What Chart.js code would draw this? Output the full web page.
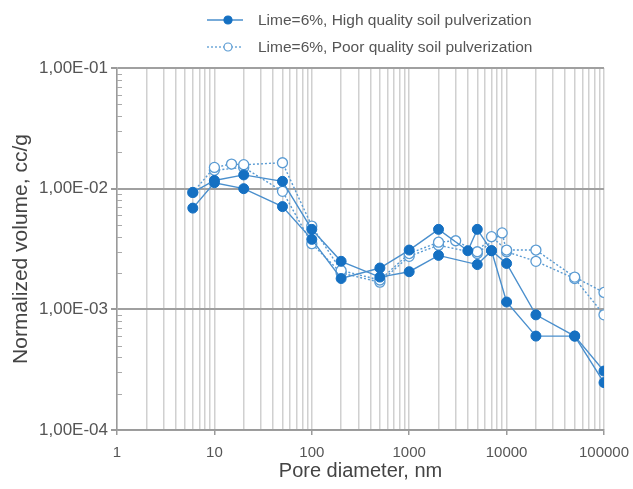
<!DOCTYPE html>
<html><head><meta charset="utf-8">
<script src="https://cdn.jsdelivr.net/npm/chart.js@4"></script>
<style>html,body{margin:0;padding:0;background:#fff}</style>
</head><body>
<canvas id="c" width="633" height="489"></canvas>
<script>
// ---- data ----
const seriesLabels = ['Lime=6%, High quality soil pulverization', 'Lime=6%, Poor quality soil pulverization'];

const highAX = [6, 10, 20, 50, 100, 200, 500, 1000, 2000, 5000, 7000, 10000, 20000, 50000, 100000];
const highAY = [9.3e-3, 1.17e-2, 1.3e-2, 1.15e-2, 4.6e-3, 2.5e-3, 1.85e-3, 2.05e-3, 2.8e-3, 2.35e-3, 3.06e-3, 2.4e-3, 9.0e-4, 6.0e-4, 3.08e-4];

const highBX = [6, 10, 20, 50, 100, 200, 500, 1000, 2000, 4000, 5000, 7000, 10000, 20000, 50000, 100000];
const highBY = [6.9e-3, 1.12e-2, 1.0e-2, 7.1e-3, 3.8e-3, 1.8e-3, 2.2e-3, 3.1e-3, 4.6e-3, 3.06e-3, 4.6e-3, 3.06e-3, 1.15e-3, 6.0e-4, 6.0e-4, 2.47e-4];

const poorAX = [6, 10, 15, 20, 50, 100, 200, 500, 1000, 2000, 3000, 5000, 7000, 10000, 20000, 50000, 100000];
const poorAY = [9.3e-3, 1.5e-2, 1.6e-2, 1.58e-2, 1.64e-2, 4.9e-3, 2.1e-3, 1.75e-3, 2.9e-3, 3.6e-3, 3.7e-3, 3.0e-3, 4.0e-3, 3.1e-3, 3.1e-3, 1.85e-3, 1.38e-3];

const poorBX = [10, 20, 50, 100, 200, 500, 1000, 2000, 5000, 9000, 10000, 20000, 50000, 100000];
const poorBY = [1.42e-2, 1.5e-2, 9.5e-3, 3.5e-3, 2.0e-3, 1.68e-3, 2.75e-3, 3.4e-3, 2.9e-3, 4.3e-3, 3.0e-3, 2.5e-3, 1.8e-3, 9.0e-4];

const xMajorTicks = [1, 10, 100, 1000, 10000, 100000];
const xTickLabels = ['1', '10', '100', '1000', '10000', '100000'];
const yMajorTicks = [1e-4, 1e-3, 1e-2, 1e-1];
const yTickLabels = ['1,00E-04', '1,00E-03', '1,00E-02', '1,00E-01'];
const xTitle = 'Pore diameter, nm';
const yTitle = 'Normalized volume, cc/g';

// ---- helpers ----
const pts = (xs, ys) => xs.map((x, i) => ({x: x, y: ys[i]}));
const minorsBetween = (majors) => {
  const out = [];
  for (let i = 0; i < majors.length - 1; i++) for (let m = 1; m <= 9; m++) out.push(majors[i] * m);
  out.push(majors[majors.length - 1]);
  return out;
};
const xAllTicks = minorsBetween(xMajorTicks);
const yMinorTicks = minorsBetween(yMajorTicks).filter(v => !yMajorTicks.some(M => Math.abs(M - v) / M < 1e-9));
const isMajorX = v => xMajorTicks.some(M => Math.abs(M - v) / M < 1e-9);

const FONT = "'Liberation Sans', Arial, sans-serif";
const TXT = '#555555';
const FILL = '#1570c2';
const LINE = '#4a8fcd';
const OPEN = '#5a9bd3';

const legendPlugin = {
  id: 'customLegend',
  afterDraw(chart) {
    const ctx = chart.ctx;
    ctx.save();
    const rows = [
      {y: 20, dash: [], fill: FILL, stroke: LINE, mstroke: FILL},
      {y: 47, dash: [2, 2], fill: '#ffffff', stroke: OPEN, mstroke: OPEN}
    ];
    rows.forEach((r, i) => {
      ctx.setLineDash(r.dash);
      ctx.strokeStyle = r.stroke;
      ctx.lineWidth = 1.3;
      ctx.beginPath(); ctx.moveTo(207, r.y); ctx.lineTo(243, r.y); ctx.stroke();
      ctx.setLineDash([]);
      ctx.beginPath(); ctx.arc(228, r.y, 4, 0, Math.PI * 2);
      ctx.fillStyle = r.fill; ctx.fill();
      ctx.strokeStyle = r.mstroke; ctx.lineWidth = 1.2; ctx.stroke();
      ctx.fillStyle = TXT;
      ctx.font = '15.5px ' + FONT;
      ctx.textBaseline = 'middle';
      ctx.textAlign = 'left';
      ctx.fillText(seriesLabels[i], 258, r.y + 1);
    });
    ctx.restore();
  }
};

const minorYPlugin = {
  id: 'minorY',
  afterDatasetsDraw(chart) {
    const ctx = chart.ctx, y = chart.scales.y, a = chart.chartArea;
    ctx.save();
    ctx.strokeStyle = '#aaaaaa'; ctx.lineWidth = 1;
    yMinorTicks.forEach(v => {
      const p = Math.round(y.getPixelForValue(v)) + 0.5;
      ctx.beginPath(); ctx.moveTo(a.left, p); ctx.lineTo(a.left + 5, p); ctx.stroke();
    });
    ctx.restore();
  }
};

const common = {fill: false, tension: 0, borderWidth: 1.4, pointRadius: 5, pointHoverRadius: 5};

new Chart(document.getElementById('c'), {
  type: 'line',
  data: {
    datasets: [
      Object.assign({label: seriesLabels[0], data: pts(highAX, highAY), borderColor: LINE, pointBackgroundColor: FILL, pointBorderColor: FILL, pointBorderWidth: 1, order: 1}, common),
      Object.assign({label: seriesLabels[0], data: pts(highBX, highBY), borderColor: LINE, pointBackgroundColor: FILL, pointBorderColor: FILL, pointBorderWidth: 1, order: 2}, common),
      Object.assign({label: seriesLabels[1], data: pts(poorAX, poorAY), borderColor: OPEN, borderDash: [2, 2], pointBackgroundColor: '#ffffff', pointBorderColor: OPEN, pointBorderWidth: 1.3, order: 3}, common),
      Object.assign({label: seriesLabels[1], data: pts(poorBX, poorBY), borderColor: OPEN, borderDash: [2, 2], pointBackgroundColor: '#ffffff', pointBorderColor: OPEN, pointBorderWidth: 1.3, order: 4}, common)
    ]
  },
  options: {
    responsive: false,
    animation: false,
    layout: {padding: {top: 68, right: 29, left: 0, bottom: 0}},
    plugins: {legend: {display: false}, tooltip: {enabled: false}},
    scales: {
      x: {
        type: 'logarithmic', min: 1, max: 100000,
        afterBuildTicks: s => { s.ticks = xAllTicks.map(v => ({value: v, major: isMajorX(v)})); },
        afterFit: s => { s.height = 59; s.paddingLeft = 0; s.paddingRight = 0; },
        ticks: {
          autoSkip: false, maxRotation: 0, minRotation: 0, padding: 9,
          color: TXT, font: {family: FONT, size: 15},
          callback: v => { const i = xMajorTicks.findIndex(M => Math.abs(M - v) / M < 1e-9); return i >= 0 ? xTickLabels[i] : ''; }
        },
        grid: {
          color: '#d0d0d0', lineWidth: 1.5, tickLength: 5,
          tickColor: c => (c.tick && isMajorX(c.tick.value)) ? '#9a9a9a' : 'rgba(0,0,0,0)'
        },
        border: {color: '#9a9a9a', width: 1.5},
        title: {display: true, text: xTitle, color: '#444', font: {family: FONT, size: 20}, padding: {top: 0, bottom: 6}}
      },
      y: {
        type: 'logarithmic', min: 1e-4, max: 1e-1,
        afterBuildTicks: s => { s.ticks = yMajorTicks.map(v => ({value: v, major: true})); },
        afterFit: s => { s.width = 117; s.paddingTop = 0; s.paddingBottom = 0; },
        ticks: {
          padding: 3, color: TXT, font: {family: FONT, size: 17},
          callback: v => { const i = yMajorTicks.findIndex(M => Math.abs(M - v) / M < 1e-9); return i >= 0 ? yTickLabels[i] : ''; }
        },
        grid: {color: '#a0a0a0', lineWidth: 2, tickLength: 6, tickColor: '#9a9a9a'},
        border: {color: '#9a9a9a', width: 1.5},
        title: {display: true, text: yTitle, color: '#444', font: {family: FONT, size: 21}, padding: {top: 9, bottom: 0}}
      }
    }
  },
  plugins: [minorYPlugin, legendPlugin]
});
</script>
</body></html>
